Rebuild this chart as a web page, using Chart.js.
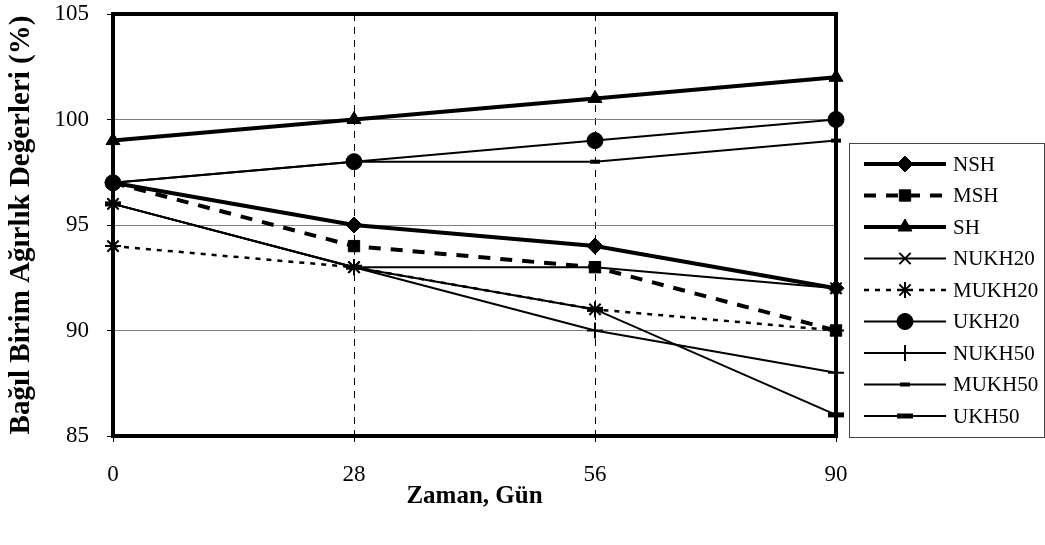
<!DOCTYPE html>
<html>
<head>
<meta charset="utf-8">
<script src="https://cdn.jsdelivr.net/npm/chart.js@4/dist/chart.umd.min.js"></script>
<style>
html,body{margin:0;padding:0;background:#fff;}
#wrap{width:1045px;height:545px;}
</style>
</head>
<body>
<div id="wrap"><canvas id="c" width="1045" height="545"></canvas></div>
<script>
const categories = ['0', '28', '56', '90'];
const NSH    = [97, 95, 94, 92];
const MSH    = [97, 94, 93, 90];
const SH     = [99, 100, 101, 102];
const NUKH20 = [96, 93, 93, 92];
const MUKH20 = [94, 93, 91, 90];
const UKH20  = [97, 98, 99, 100];
const NUKH50 = [96, 93, 90, 88];
const MUKH50 = [97, 98, 98, 99];
const UKH50  = [96, 93, 91, 86];
const yTicks = [85, 90, 95, 100, 105];

const FONT = 'Liberation Serif, "Times New Roman", serif';
const BLACK = '#000';

function ds(label, data, o) {
  return Object.assign({
    label, data,
    borderColor: BLACK, backgroundColor: BLACK,
    pointBackgroundColor: BLACK, pointBorderColor: BLACK,
    borderWidth: 2, borderDash: [], pointBorderWidth: 1,
    tension: 0, fill: false, clip: false
  }, o);
}

const datasets = [
  ds('NSH', NSH, {borderWidth: 4, pointStyle: 'rectRot', pointRadius: 8}),
  ds('MSH', MSH, {borderWidth: 4, borderDash: [12, 10], pointStyle: 'rect', pointRadius: 8}),
  ds('SH', SH, {borderWidth: 4, pointStyle: 'triangle', pointRadius: 8}),
  ds('NUKH20', NUKH20, {borderWidth: 2, pointStyle: 'crossRot', pointRadius: 8, pointBorderWidth: 2}),
  ds('MUKH20', MUKH20, {borderWidth: 2.5, borderDash: [5, 6], pointStyle: 'star', pointRadius: 8, pointBorderWidth: 2}),
  ds('UKH20', UKH20, {borderWidth: 2, pointStyle: 'circle', pointRadius: 8}),
  ds('NUKH50', NUKH50, {borderWidth: 2, pointStyle: 'cross', pointRadius: 8, pointBorderWidth: 2}),
  ds('MUKH50', MUKH50, {borderWidth: 2, pointStyle: 'line', pointRadius: 5, pointBorderWidth: 4}),
  ds('UKH50', UKH50, {borderWidth: 2, pointStyle: 'line', pointRadius: 8, pointBorderWidth: 5})
];

const frame = {
  id: 'frame',
  beforeDatasetsDraw(chart) {
    const a = chart.chartArea, ctx = chart.ctx;
    ctx.save();
    ctx.strokeStyle = BLACK;
    ctx.lineWidth = 4;
    ctx.setLineDash([]);
    ctx.strokeRect(a.left, a.top, a.right - a.left, a.bottom - a.top);
    ctx.restore();
  }
};

const legendBox = {
  id: 'legendBox',
  afterDraw(chart) {
    const ctx = chart.ctx;
    const bx = 849, by = 143, bw = 195, bh = 294;
    ctx.save();
    ctx.fillStyle = '#fff';
    ctx.fillRect(bx, by, bw, bh);
    ctx.strokeStyle = '#444';
    ctx.lineWidth = 1;
    ctx.strokeRect(bx + 0.5, by + 0.5, bw, bh);
    const x0 = 864, x1 = 946, xm = 905, tx = 953;
    chart.data.datasets.forEach((d, i) => {
      const y = 164 + i * 31.5;
      ctx.strokeStyle = BLACK;
      ctx.fillStyle = BLACK;
      ctx.lineWidth = d.borderWidth;
      ctx.setLineDash(d.borderDash || []);
      ctx.beginPath();
      ctx.moveTo(x0, y);
      ctx.lineTo(x1, y);
      ctx.stroke();
      ctx.setLineDash([]);
      ctx.lineWidth = d.pointBorderWidth;
      Chart.helpers.drawPoint(ctx, {pointStyle: d.pointStyle, radius: d.pointRadius, rotation: 0, borderWidth: d.pointBorderWidth}, xm, y);
      ctx.fillStyle = BLACK;
      ctx.font = '21px ' + FONT;
      ctx.textBaseline = 'middle';
      ctx.textAlign = 'left';
      ctx.fillText(d.label, tx, y + 1);
    });
    ctx.restore();
  }
};

new Chart(document.getElementById('c'), {
  type: 'line',
  data: { labels: categories, datasets },
  options: {
    responsive: false,
    animation: false,
    layout: { padding: { left: 0, right: 209, top: 14, bottom: 0 } },
    plugins: { legend: { display: false }, tooltip: { enabled: false } },
    scales: {
      x: {
        type: 'category',
        offset: false,
        grid: {
          color: ctx => (ctx.index === 1 || ctx.index === 2) ? BLACK : 'rgba(0,0,0,0)',
          lineWidth: 1,
          tickColor: BLACK,
          tickLength: 6,
          borderDash: [7, 6],
          tickBorderDash: []
        },
        border: { display: false, dash: [7, 6] },
        ticks: { color: BLACK, font: { family: FONT, size: 23 }, padding: 19, maxRotation: 0 },
        title: { display: true, text: 'Zaman, Gün', color: BLACK, font: { family: FONT, size: 25, weight: 'bold' }, padding: { top: 20, bottom: 33 } },
        afterFit: s => { s.height = 109; }
      },
      y: {
        min: 85, max: 105,
        afterBuildTicks: s => { s.ticks = yTicks.map(v => ({ value: v })); },
        grid: {
          color: ctx => (ctx.tick && ctx.tick.value > 85 && ctx.tick.value < 105) ? '#808080' : 'rgba(0,0,0,0)',
          lineWidth: 1,
          tickColor: BLACK,
          tickLength: 6
        },
        border: { display: false },
        ticks: { color: BLACK, font: { family: FONT, size: 23 }, padding: 18 },
        title: { display: true, text: 'Bağıl Birim Ağırlık Değerleri (%)', color: BLACK, font: { family: FONT, size: 29, weight: 'bold' }, padding: { top: 4, bottom: 0 } },
        afterFit: s => { s.width = 113; s.paddingTop = 0; s.paddingBottom = 0; }
      }
    }
  },
  plugins: [frame, legendBox]
});
</script>
</body>
</html>
